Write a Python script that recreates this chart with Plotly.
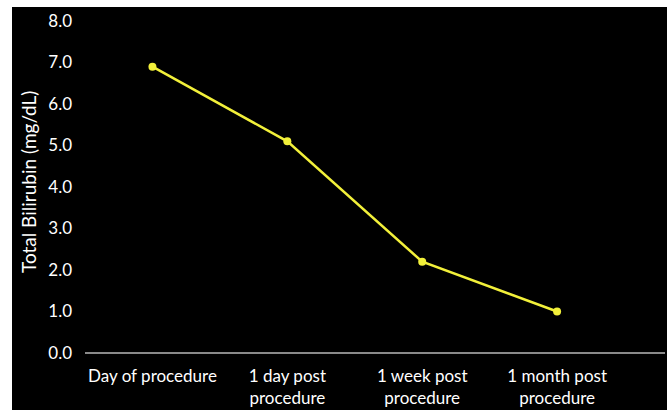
import plotly.graph_objects as go

categories = ["Day of procedure", "1 day post<br>procedure", "1 week post<br>procedure", "1 month post<br>procedure"]
bilirubin = [6.9, 5.1, 2.2, 1.0]
y_ticks = [0, 1, 2, 3, 4, 5, 6, 7, 8]
y_ticktext = [f"{v:.1f}" for v in y_ticks]

xpos = list(range(len(categories)))

fig = go.Figure()
fig.add_trace(go.Scatter(
    x=xpos, y=bilirubin, mode="lines+markers",
    line=dict(color="#f2f03a", width=2.5),
    marker=dict(color="#f2f03a", size=8),
    showlegend=False, cliponaxis=False,
))

W, H = 672, 410
ml, mr, mt, mb = 85, 7, 21, 57
pw, ph = W - ml - mr, H - mt - mb

def px_x(p):
    return (p - ml) / pw

def px_y(p):
    return (H - mb - p) / ph

fig.add_shape(type="rect", xref="paper", yref="paper",
              x0=px_x(12), x1=px_x(667), y0=px_y(411), y1=px_y(7),
              fillcolor="black", line=dict(width=0), layer="below")

fig.add_annotation(text="Total Bilirubin (mg/dL)", xref="paper", yref="paper",
                   x=px_x(28), y=px_y(182), xanchor="center", yanchor="middle",
                   textangle=-90, showarrow=False,
                   font=dict(family="Lato", size=19, color="white"))

fig.update_layout(
    width=W, height=H,
    margin=dict(l=ml, r=mr, t=mt, b=mb, autoexpand=False),
    paper_bgcolor="white", plot_bgcolor="black",
    font=dict(family="Lato", color="white", size=17),
    xaxis=dict(range=[-0.5, 3.8], tickvals=xpos, ticktext=categories,
               showgrid=False, zeroline=False, showline=False, automargin=False,
               ticks="", ticklabelstandoff=11, tickfont=dict(size=17, color="white")),
    yaxis=dict(range=[0, 8], tickvals=y_ticks, ticktext=y_ticktext,
               showgrid=False, zeroline=True, zerolinecolor="#8a8a8a", zerolinewidth=1.5,
               showline=False, ticks="", ticklabelstandoff=12, automargin=False,
               tickfont=dict(size=17, color="white")),
)

fig.write_html("out.html", config={"displayModeBar": False},
               post_script="document.body.style.margin='0px';")
